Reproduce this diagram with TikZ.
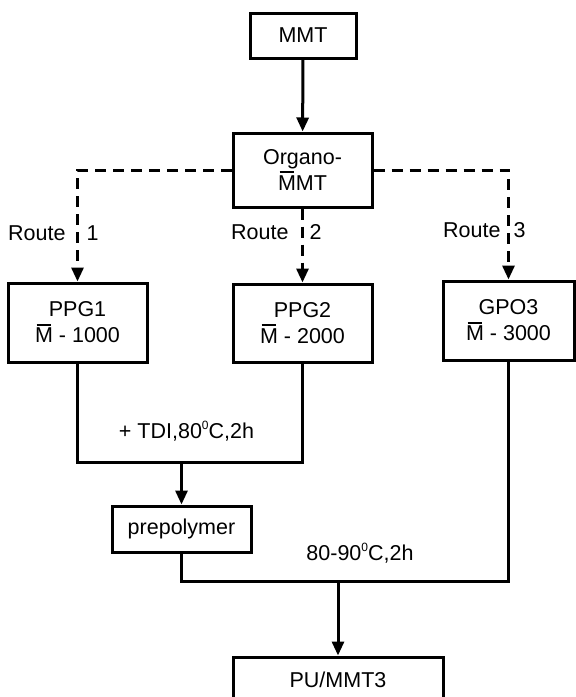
\documentclass[tikz,border=0pt]{standalone}
\usepackage{fontspec}
\setmainfont{Liberation Sans}
\usetikzlibrary{arrows.meta}
\newcommand{\Mbar}{\makebox[0pt][l]{\hspace{0.07em}\rule[0.8em]{0.69em}{0.09em}}M}
\newcommand{\degz}{\raisebox{0.42em}{\fontsize{12}{12}\selectfont 0}}

\begin{document}
\begin{tikzpicture}[x=1pt,y=-1pt,line width=3pt,
  every node/.style={font=\fontsize{21.5}{26}\selectfont,line width=3pt},
  box/.style={draw,align=center,inner sep=0pt},
  lbl/.style={inner sep=0pt},
  arr/.style={-{Triangle[length=14pt,width=12pt]}},
  routeline/.style={dash pattern=on 11pt off 7pt}]
\useasboundingbox (0,0) rectangle (576,697);

% boxes
\node[box,minimum width=106pt,minimum height=45pt] (mmt) at (303,35.5) {MMT};
\node[box,minimum width=139pt,minimum height=74pt] (organo) at (302.5,170) {Organo-\\\Mbar MT};
\node[box,minimum width=139pt,minimum height=79pt] (ppg1) at (77.5,322.5) {PPG1\\\Mbar\ - 1000};
\node[box,minimum width=139pt,minimum height=78pt] (ppg2) at (302.5,323) {PPG2\\\Mbar\ - 2000};
\node[box,minimum width=131pt,minimum height=79pt] (gpo3) at (508.5,320.5) {GPO3\\\Mbar\ - 3000};
\node[box,minimum width=139pt,minimum height=46pt] (prepoly) at (181.5,529) {prepolymer};
\node[box,minimum width=210pt,minimum height=46pt] (pu) at (338,680) {PU/MMT3};

% junctions
\coordinate (j1) at (181.5,462);
\coordinate (j2) at (338,581);

\draw[arr] (mmt) -- (organo);
\draw[arr,routeline] (organo.west) -| (ppg1.north);
\draw[arr,routeline] (organo) -- (ppg2);
\draw[arr,routeline] (organo.east) -| (gpo3.north);

\node[lbl,anchor=east] (r1) at (67,233) {Route};
\node[lbl,anchor=west] (n1) at (85,233) {1};
\node[lbl,anchor=east] (r2) at (290,232) {Route};
\node[lbl,anchor=west] (n2) at (308,232) {2};
\node[lbl,anchor=east] (r3) at (502,230) {Route};
\node[lbl,anchor=west] (n3) at (512,230) {3};

\draw (ppg1.south) |- (j1) -| (ppg2.south);
\draw[arr] (j1) -- (prepoly);
\node (tdi) at (186.5,431) {+ TDI,80\degz C,2h};

\draw (prepoly.south) |- (j2) -| (gpo3.south);
\draw[arr] (j2) -- (pu);
\node (cure) at (360,553) {80-90\degz C,2h};
\end{tikzpicture}
\end{document}
